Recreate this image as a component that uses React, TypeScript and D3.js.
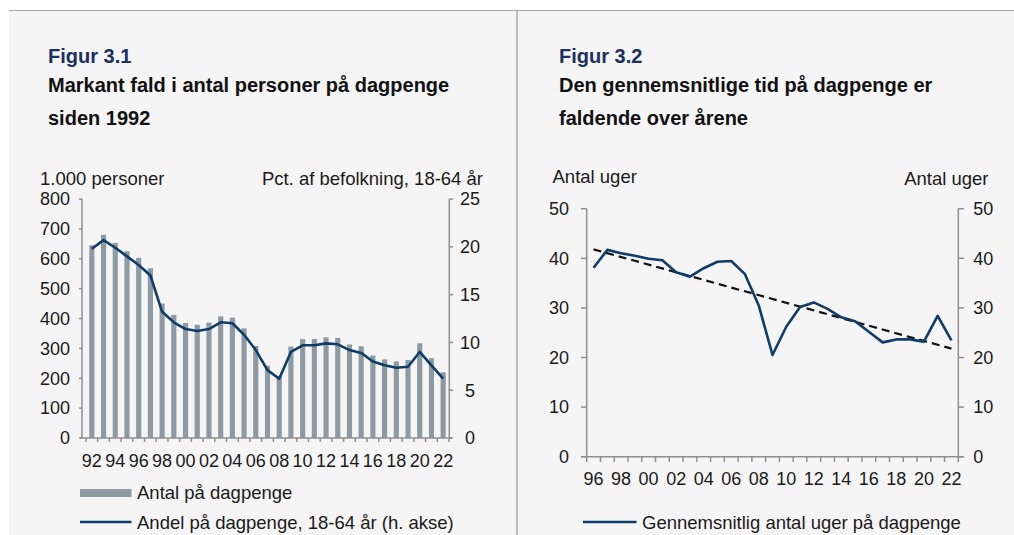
import React from "react";
import * as d3 from "d3";

const years1 = d3.range(1992, 2023).map(String);
const antal = [645, 680, 653, 625, 603, 568, 450, 412, 385, 379, 386, 407, 403, 367, 308, 242, 208, 306, 331, 332, 337, 335, 313, 307, 276, 263, 256, 261, 317, 267, 220];
const andel = [19.8, 20.7, 19.9, 19.0, 18.1, 17.0, 13.2, 12.1, 11.4, 11.2, 11.4, 12.1, 12.0, 10.8, 9.2, 7.1, 6.2, 9.0, 9.7, 9.7, 9.9, 9.8, 9.2, 8.9, 8.0, 7.6, 7.35, 7.45, 9.0, 7.6, 6.2];
const leftTicks = [0, 100, 200, 300, 400, 500, 600, 700, 800];
const rightTicks1 = [0, 5, 10, 15, 20, 25];

const years2 = d3.range(1996, 2023).map(String);
const uger = [38.1, 41.7, 41.0, 40.5, 39.9, 39.6, 37.2, 36.3, 38.0, 39.3, 39.45, 36.8, 30.5, 20.5, 26.2, 30.2, 31.1, 29.8, 28.1, 27.3, 25.2, 23.05, 23.65, 23.65, 23.2, 28.4, 23.45];
const trendEnds = [41.8, 21.8];
const ticks2 = [0, 10, 20, 30, 40, 50];

const FONT = "'Liberation Sans', Arial, sans-serif";
const AXIS = "#8f8f8f";
const TXT = "#1a1a1a";
const BAR = "#8e9aa3";
const NAVY = "#0f3c68";

export default function App() {
  // Chart 1 scales
  const x1 = d3.scaleBand().domain(years1).range([86, 449]);
  const y1 = d3.scaleLinear().domain([0, 800]).range([438, 199]);
  const y1r = d3.scaleLinear().domain([0, 25]).range([438, 199]);
  const s1 = x1.step();
  const bw = s1 * 0.44;
  const line1 = d3
    .line<number>()
    .x((_, i) => (x1(years1[i]) as number) + s1 / 2)
    .y((d) => y1r(d));

  // Chart 2 scales
  const x2 = d3.scaleBand().domain(years2).range([586.7, 958.3]);
  const y2 = d3.scaleLinear().domain([0, 50]).range([456.7, 208.7]);
  const s2 = x2.step();
  const line2 = d3
    .line<number>()
    .x((_, i) => (x2(years2[i]) as number) + s2 / 2)
    .y((d) => y2(d));
  const tx0 = (x2(years2[0]) as number) + s2 / 2;
  const tx1 = (x2(years2[years2.length - 1]) as number) + s2 / 2;

  const boundaries1 = d3.range(years1.length + 1).map((i) => 86 + i * s1);
  const boundaries2 = d3.range(years2.length + 1).map((i) => 586.7 + i * s2);

  return (
    <svg
      width={1014}
      height={535}
      style={{ position: "absolute", left: 0, top: 0, fontFamily: FONT }}
    >
      <rect x={0} y={0} width={1014} height={535} fill="#ffffff" />
      <rect x={9} y={10} width={1005} height={525} fill="#f5f5f5" />
      <line x1={9} x2={1014} y1={10.5} y2={10.5} stroke="#a8a8a8" strokeWidth={1.2} />
      <line x1={517} x2={517} y1={10} y2={535} stroke="#a8a8a8" strokeWidth={1.5} />

      {/* Titles chart 1 */}
      <text x={48} y={63} fontSize={20} fontWeight="bold" fill="#1b2f62">Figur 3.1</text>
      <text x={48} y={92} fontSize={20} fontWeight="bold" fill="#111">Markant fald i antal personer på dagpenge</text>
      <text x={48} y={125} fontSize={20} fontWeight="bold" fill="#111">siden 1992</text>
      <text x={40} y={184.5} fontSize={18.5} fill={TXT}>1.000 personer</text>
      <text x={483} y={184.5} fontSize={18.5} fill={TXT} textAnchor="end">Pct. af befolkning, 18-64 år</text>

      {/* Bars */}
      {antal.map((v, i) => (
        <rect
          key={years1[i]}
          x={(x1(years1[i]) as number) + s1 / 2 - bw / 2}
          y={y1(v)}
          width={bw}
          height={y1(0) - y1(v)}
          fill={BAR}
        />
      ))}
      <path d={line1(andel) || ""} fill="none" stroke={NAVY} strokeWidth={2.6} strokeLinejoin="round" />

      {/* Axes chart 1 */}
      <line x1={82} x2={82} y1={199} y2={438} stroke={AXIS} strokeWidth={1.5} />
      <line x1={449.3} x2={449.3} y1={199} y2={438} stroke={AXIS} strokeWidth={1.5} />
      <line x1={80} x2={452} y1={438} y2={438} stroke={AXIS} strokeWidth={1.5} />
      {leftTicks.map((t) => (
        <g key={"l" + t}>
          <line x1={79} x2={82} y1={y1(t)} y2={y1(t)} stroke={AXIS} strokeWidth={1.5} />
          <text x={70} y={y1(t)} dy="0.35em" fontSize={18} fill={TXT} textAnchor="end">{t}</text>
        </g>
      ))}
      {rightTicks1.map((t) => (
        <g key={"r" + t}>
          <line x1={449.3} x2={453} y1={y1r(t)} y2={y1r(t)} stroke={AXIS} strokeWidth={1.5} />
          <text x={470} y={y1r(t)} dy="0.35em" fontSize={18} fill={TXT} textAnchor="middle">{t}</text>
        </g>
      ))}
      {boundaries1.map((b, i) => (
        <line key={"b1" + i} x1={b} x2={b} y1={438} y2={442} stroke={AXIS} strokeWidth={1.5} />
      ))}
      {years1.map((yr, i) =>
        i % 2 === 0 ? (
          <text key={"xl" + yr} x={(x1(yr) as number) + s1 / 2} y={467} fontSize={18} fill={TXT} textAnchor="middle">
            {yr.slice(2)}
          </text>
        ) : null
      )}

      {/* Legend chart 1 */}
      <rect x={80} y={489} width={51.5} height={8} fill={BAR} />
      <text x={137} y={499} fontSize={18.5} fill={TXT}>Antal på dagpenge</text>
      <line x1={80} x2={131.5} y1={522} y2={522} stroke={NAVY} strokeWidth={2.6} />
      <text x={137} y={528.5} fontSize={18.5} fill={TXT}>Andel på dagpenge, 18-64 år (h. akse)</text>

      {/* Titles chart 2 */}
      <text x={559} y={63} fontSize={20} fontWeight="bold" fill="#1b2f62">Figur 3.2</text>
      <text x={559} y={92} fontSize={20} fontWeight="bold" fill="#111">Den gennemsnitlige tid på dagpenge er</text>
      <text x={559} y={125} fontSize={20} fontWeight="bold" fill="#111">faldende over årene</text>
      <text x={552.5} y={183} fontSize={18.5} fill={TXT}>Antal uger</text>
      <text x={988.5} y={185} fontSize={18.5} fill={TXT} textAnchor="end">Antal uger</text>

      {/* Lines chart 2 */}
      <line
        x1={tx0}
        x2={tx1}
        y1={y2(trendEnds[0])}
        y2={y2(trendEnds[1])}
        stroke="#111"
        strokeWidth={2.2}
        strokeDasharray="8,5"
      />
      <path d={line2(uger) || ""} fill="none" stroke={NAVY} strokeWidth={2.6} strokeLinejoin="round" />

      {/* Axes chart 2 */}
      <line x1={586.7} x2={586.7} y1={208.7} y2={456.7} stroke={AXIS} strokeWidth={1.5} />
      <line x1={958.3} x2={958.3} y1={208.7} y2={456.7} stroke={AXIS} strokeWidth={1.5} />
      <line x1={581} x2={964} y1={456.7} y2={456.7} stroke={AXIS} strokeWidth={1.5} />
      {ticks2.map((t) => (
        <g key={"t2" + t}>
          <line x1={581} x2={586.7} y1={y2(t)} y2={y2(t)} stroke={AXIS} strokeWidth={1.5} />
          <text x={569} y={y2(t)} dy="0.35em" fontSize={18} fill={TXT} textAnchor="end">{t}</text>
          <line x1={958.3} x2={964} y1={y2(t)} y2={y2(t)} stroke={AXIS} strokeWidth={1.5} />
          <text x={973.3} y={y2(t)} dy="0.35em" fontSize={18} fill={TXT} textAnchor="start">{t}</text>
        </g>
      ))}
      {boundaries2.map((b, i) => (
        <line key={"b2" + i} x1={b} x2={b} y1={456.7} y2={462} stroke={AXIS} strokeWidth={1.5} />
      ))}
      {years2.map((yr, i) =>
        i % 2 === 0 ? (
          <text key={"xl2" + yr} x={(x2(yr) as number) + s2 / 2} y={485} fontSize={18} fill={TXT} textAnchor="middle">
            {yr.slice(2)}
          </text>
        ) : null
      )}

      {/* Legend chart 2 */}
      <line x1={583} x2={636.5} y1={522} y2={522} stroke={NAVY} strokeWidth={2.6} />
      <text x={642} y={528.5} fontSize={18.5} fill={TXT}>Gennemsnitlig antal uger på dagpenge</text>
    </svg>
  );
}
